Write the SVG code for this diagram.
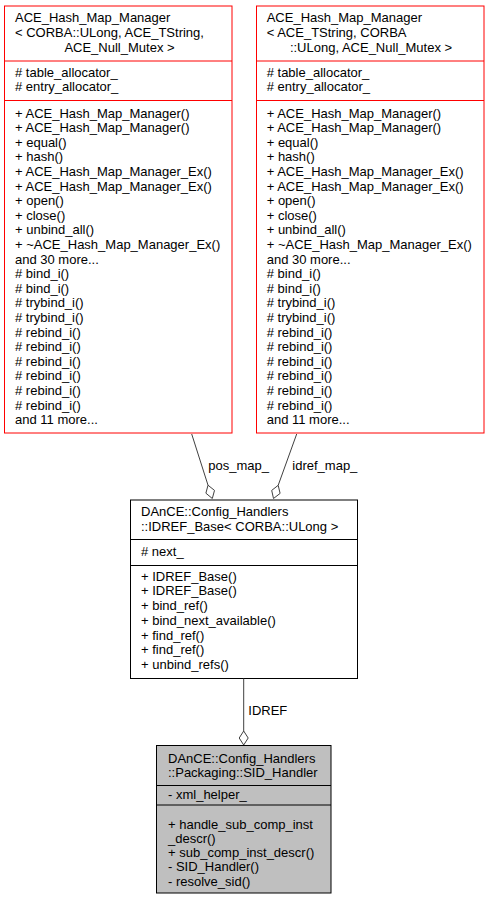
<svg xmlns="http://www.w3.org/2000/svg" width="489" height="901" viewBox="0 0 489 901">
<style>
text{font-family:"Liberation Sans",Arial,Helvetica,sans-serif;font-size:13px;fill:#000}
.mid{text-anchor:middle}
.red{fill:#fff;stroke:#ff0000;stroke-width:1}
.redl{stroke:#ff0000;stroke-width:1}
.blk{fill:#fff;stroke:#000;stroke-width:1}
.gry{fill:#bfbfbf;stroke:#000;stroke-width:1}
.blkl{stroke:#000;stroke-width:1}
.edge{fill:none;stroke:#404040;stroke-width:1}
.dia{fill:#fff;stroke:#404040;stroke-width:1}
</style>
<rect width="489" height="901" fill="#fff"/>
<g id="node_left">
<rect class="red" x="4.5" y="6" width="227.5" height="427"/>
<line class="redl" x1="4.5" y1="61" x2="232" y2="61"/>
<line class="redl" x1="4.5" y1="100.5" x2="232" y2="100.5"/>
<text x="15" y="22">ACE_Hash_Map_Manager</text>
<text x="15" y="37">&lt; CORBA::ULong, ACE_TString,</text>
<text class="mid" x="119.5" y="51.7">ACE_Null_Mutex &gt;</text>
<text x="15" y="76.7"># table_allocator_</text>
<text x="15" y="91.2"># entry_allocator_</text>
<text x="15" y="117.5">+ ACE_Hash_Map_Manager()</text>
<text x="15" y="132.1">+ ACE_Hash_Map_Manager()</text>
<text x="15" y="146.7">+ equal()</text>
<text x="15" y="161.3">+ hash()</text>
<text x="15" y="175.9">+ ACE_Hash_Map_Manager_Ex()</text>
<text x="15" y="190.5">+ ACE_Hash_Map_Manager_Ex()</text>
<text x="15" y="205.1">+ open()</text>
<text x="15" y="219.7">+ close()</text>
<text x="15" y="234.3">+ unbind_all()</text>
<text x="15" y="248.9">+ ~ACE_Hash_Map_Manager_Ex()</text>
<text x="15" y="263.5">and 30 more...</text>
<text x="15" y="278.1"># bind_i()</text>
<text x="15" y="292.7"># bind_i()</text>
<text x="15" y="307.3"># trybind_i()</text>
<text x="15" y="321.9"># trybind_i()</text>
<text x="15" y="336.5"># rebind_i()</text>
<text x="15" y="351.1"># rebind_i()</text>
<text x="15" y="365.7"># rebind_i()</text>
<text x="15" y="380.3"># rebind_i()</text>
<text x="15" y="394.9"># rebind_i()</text>
<text x="15" y="409.5"># rebind_i()</text>
<text x="15" y="424.1">and 11 more...</text>
</g>
<g id="node_right">
<rect class="red" x="256.5" y="6" width="227.5" height="427"/>
<line class="redl" x1="256.5" y1="61" x2="484" y2="61"/>
<line class="redl" x1="256.5" y1="100.5" x2="484" y2="100.5"/>
<text x="266.7" y="22">ACE_Hash_Map_Manager</text>
<text x="266.7" y="37">&lt; ACE_TString, CORBA</text>
<text class="mid" x="371" y="51.7">::ULong, ACE_Null_Mutex &gt;</text>
<text x="266.7" y="76.7"># table_allocator_</text>
<text x="266.7" y="91.2"># entry_allocator_</text>
<text x="266.7" y="117.5">+ ACE_Hash_Map_Manager()</text>
<text x="266.7" y="132.1">+ ACE_Hash_Map_Manager()</text>
<text x="266.7" y="146.7">+ equal()</text>
<text x="266.7" y="161.3">+ hash()</text>
<text x="266.7" y="175.9">+ ACE_Hash_Map_Manager_Ex()</text>
<text x="266.7" y="190.5">+ ACE_Hash_Map_Manager_Ex()</text>
<text x="266.7" y="205.1">+ open()</text>
<text x="266.7" y="219.7">+ close()</text>
<text x="266.7" y="234.3">+ unbind_all()</text>
<text x="266.7" y="248.9">+ ~ACE_Hash_Map_Manager_Ex()</text>
<text x="266.7" y="263.5">and 30 more...</text>
<text x="266.7" y="278.1"># bind_i()</text>
<text x="266.7" y="292.7"># bind_i()</text>
<text x="266.7" y="307.3"># trybind_i()</text>
<text x="266.7" y="321.9"># trybind_i()</text>
<text x="266.7" y="336.5"># rebind_i()</text>
<text x="266.7" y="351.1"># rebind_i()</text>
<text x="266.7" y="365.7"># rebind_i()</text>
<text x="266.7" y="380.3"># rebind_i()</text>
<text x="266.7" y="394.9"># rebind_i()</text>
<text x="266.7" y="409.5"># rebind_i()</text>
<text x="266.7" y="424.1">and 11 more...</text>
</g>
<g id="node_idref_base">
<rect class="blk" x="130.5" y="500" width="227" height="178.5"/>
<line class="blkl" x1="130.5" y1="539.5" x2="357.5" y2="539.5"/>
<line class="blkl" x1="130.5" y1="565.5" x2="357.5" y2="565.5"/>
<text x="141" y="515.7">DAnCE::Config_Handlers</text>
<text x="141" y="531">::IDREF_Base&lt; CORBA::ULong &gt;</text>
<text x="141" y="556"># next_</text>
<text x="141" y="580.7">+ IDREF_Base()</text>
<text x="141" y="595.4">+ IDREF_Base()</text>
<text x="141" y="610.1">+ bind_ref()</text>
<text x="141" y="624.8">+ bind_next_available()</text>
<text x="141" y="639.5">+ find_ref()</text>
<text x="141" y="654.2">+ find_ref()</text>
<text x="141" y="668.9">+ unbind_refs()</text>
</g>
<g id="node_sid_handler">
<rect class="gry" x="156.5" y="745.5" width="174.5" height="147.5"/>
<line class="blkl" x1="156.5" y1="785.5" x2="331" y2="785.5"/>
<line class="blkl" x1="156.5" y1="805" x2="331" y2="805"/>
<text x="168" y="762.5">DAnCE::Config_Handlers</text>
<text x="168" y="776.5">::Packaging::SID_Handler</text>
<text x="168" y="799">- xml_helper_</text>
<text x="168" y="829">+ handle_sub_comp_inst</text>
<text x="168" y="843">_descr()</text>
<text x="168" y="857.2">+ sub_comp_inst_descr()</text>
<text x="168" y="871.4">- SID_Handler()</text>
<text x="168" y="885.6">- resolve_sid()</text>
</g>
<g id="connectors">
<path class="edge" d="M191.7,434 L208,485.2"/>
<polygon class="dia" points="212.3,498.5 214.5,490.4 208,485.2 205.9,493.2"/>
<text x="208.3" y="470">pos_map_</text>
<path class="edge" d="M296.7,434 L278.2,485.3"/>
<polygon class="dia" points="273.5,498.5 271.7,490.4 278.2,485.3 280.1,493.4"/>
<text x="292.3" y="470">idref_map_</text>
<path class="edge" d="M243.7,678.5 L243.7,731"/>
<polygon class="dia" points="243.7,745 239.2,738 243.7,731 248.2,738"/>
<text x="248.3" y="715">IDREF</text>
</g>
</svg>
